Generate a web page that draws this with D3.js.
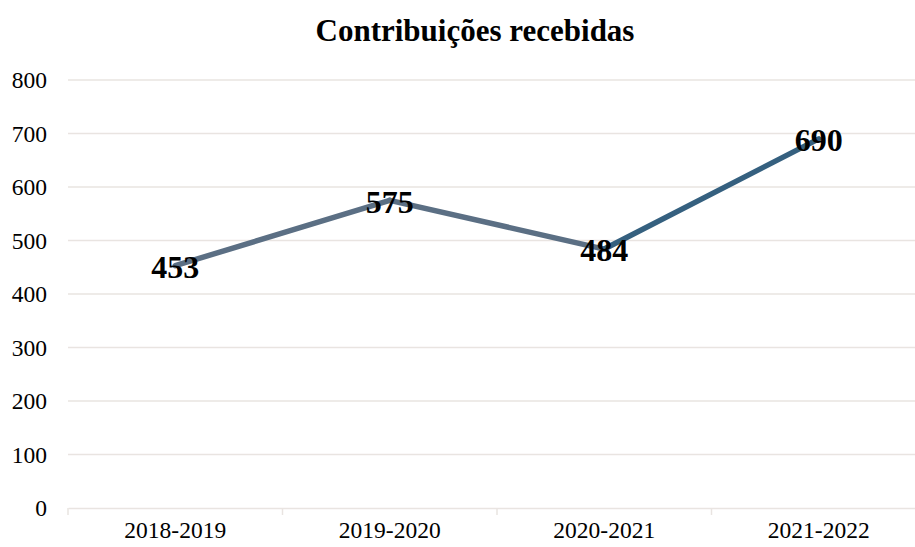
<!DOCTYPE html>
<html>
<head>
<meta charset="utf-8">
<script src="https://cdn.jsdelivr.net/npm/d3@7"></script>
<style>
  html, body { margin: 0; padding: 0; background: #fff; }
  svg { display: block; font-family: "Liberation Serif", "Times New Roman", serif; }
</style>
</head>
<body>
<svg id="chart" width="915" height="547"></svg>
<script>
const categories = ["2018-2019", "2019-2020", "2020-2021", "2021-2022"];
const values = [453, 575, 484, 690];
const yTicks = [0, 100, 200, 300, 400, 500, 600, 700, 800];
const chartTitle = "Contribuições recebidas";

// segment styling: the last segment is highlighted in a deeper blue
const segmentColor = i => (i === categories.length - 2 ? "#35607f" : "#5b6f84");

const svg = d3.select("#chart");
const W = 915, H = 547;

const x = d3.scaleBand().domain(categories).range([68, 926]);
const y = d3.scaleLinear().domain([0, 800]).range([508, 80]);

// title
svg.append("text")
  .attr("x", 475).attr("y", 41)
  .attr("text-anchor", "middle")
  .attr("font-size", 31).attr("font-weight", "bold")
  .attr("fill", "#000")
  .text(chartTitle);

// gridlines
svg.append("g").selectAll("line")
  .data(yTicks.filter(t => t > 0))
  .join("line")
  .attr("x1", 68).attr("x2", W)
  .attr("y1", d => y(d)).attr("y2", d => y(d))
  .attr("stroke", "#e9e4e1").attr("stroke-width", 1.5);

// y tick labels
svg.append("g").selectAll("text")
  .data(yTicks)
  .join("text")
  .attr("x", 47).attr("y", d => y(d))
  .attr("dy", "0.35em")
  .attr("text-anchor", "end")
  .attr("font-size", 23.5).attr("fill", "#000")
  .text(d => d);

// x axis
const xAxis = svg.append("g").attr("transform", `translate(0,${y(0)})`)
  .call(d3.axisBottom(x).tickSize(0).tickPadding(13));
xAxis.select(".domain").attr("stroke", "#e9e4e1").attr("stroke-width", 1.5);
xAxis.selectAll("text").attr("font-size", 23.5).attr("fill", "#000")
  .attr("font-family", "Liberation Serif, Times New Roman, serif");
// category boundary ticks
const bounds = categories.map(c => x(c)).concat([x(categories[categories.length - 1]) + x.bandwidth()]);
xAxis.selectAll(".bound").data(bounds).join("line")
  .attr("class", "bound")
  .attr("x1", d => d).attr("x2", d => d)
  .attr("y1", 0).attr("y2", 7)
  .attr("stroke", "#e9e4e1").attr("stroke-width", 1.5);

// line segments
const pts = categories.map((c, i) => ({ cx: x(c) + x.bandwidth() / 2, cy: y(values[i]), v: values[i] }));
svg.append("g").selectAll("line")
  .data(pts.slice(0, -1).map((p, i) => [p, pts[i + 1], i]))
  .join("line")
  .attr("x1", d => d[0].cx).attr("y1", d => d[0].cy)
  .attr("x2", d => d[1].cx).attr("y2", d => d[1].cy)
  .attr("stroke", d => segmentColor(d[2]))
  .attr("stroke-width", 5.5)
  .attr("stroke-linecap", "round");

// value labels centred on points
svg.append("g").selectAll("text")
  .data(pts)
  .join("text")
  .attr("x", d => d.cx).attr("y", d => d.cy + 1)
  .attr("dy", "0.35em")
  .attr("text-anchor", "middle")
  .attr("font-size", 32).attr("font-weight", "bold")
  .attr("fill", "#000")
  .text(d => d.v);
</script>
</body>
</html>
